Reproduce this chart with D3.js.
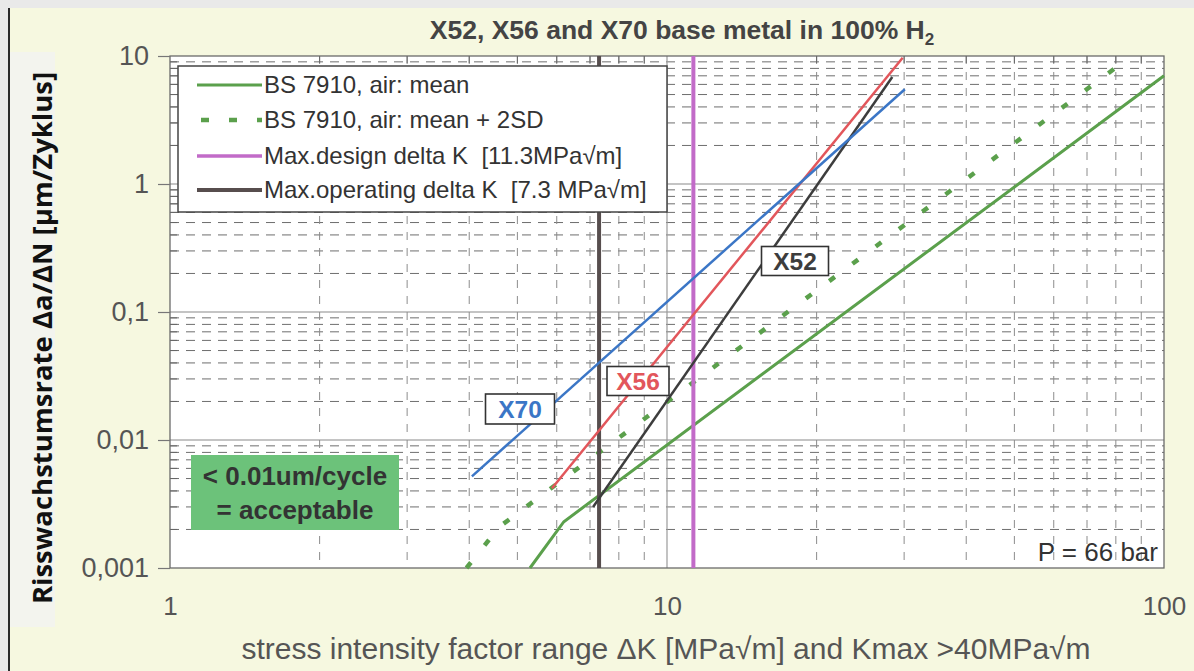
<!DOCTYPE html>
<html>
<head>
<meta charset="utf-8">
<script src="https://cdn.jsdelivr.net/npm/d3@7"></script>
<style>
  html, body { margin: 0; padding: 0; background: #e9e9e9; }
  svg { display: block; }
  text { white-space: pre; }
</style>
</head>
<body>
<svg id="chart" width="1194" height="671"></svg>
<script>
// ---- data -------------------------------------------------------------
const xTickValues = [1, 10, 100];
const xTickLabels = ["1", "10", "100"];
const yTickValues = [0.001, 0.01, 0.1, 1, 10];
const yTickLabels = ["0,001", "0,01", "0,1", "1", "10"];

// crack growth rate [µm/cycle] vs ΔK [MPa√m]
const x70Curve = [[4.05, 0.0052], [30.1, 5.5]];
const x56Curve = [[5.87, 0.0042], [29.8, 9.7]];
const x52Curve = [[7.1, 0.0030], [28.4, 6.85]];
const bsMean = [[5.3, 0.001], [6.2, 0.0023], [100, 7.0]];
const bsMean2SD = [[3.95, 0.001], [4.6, 0.0021], [86, 10]];

const maxDesignK = 11.3;
const maxOperatingK = 7.3;

const legendLabels = [
  "BS 7910, air: mean",
  "BS 7910, air: mean + 2SD",
  "Max.design delta K  [11.3MPa\u221Am]",
  "Max.operating delta K  [7.3 MPa\u221Am]"
];

// ---- layout -----------------------------------------------------------
const svg = d3.select("#chart");
const W = 1194, H = 671;
const plot = { left: 170, right: 1164, top: 56, bottom: 568 };

const x = d3.scaleLog().domain([1, 100]).range([plot.left, plot.right]);
const y = d3.scaleLog().domain([0.001, 10]).range([plot.bottom, plot.top]);

const font = "Arial, 'Liberation Sans', sans-serif";
const C = {
  panel: "#f6f8e0",
  blue: "#3b76c6",
  red: "#e2565b",
  dark: "#3d3d3d",
  green: "#5ba04c",
  purple: "#c26bc8",
  operating: "#574e4e",
  text: "#555555"
};

// background panel
svg.append("rect").attr("x", 0).attr("y", 0).attr("width", W).attr("height", H).attr("fill", "#e9e9e9");
svg.append("rect").attr("x", 9).attr("y", 8).attr("width", W - 9).attr("height", H - 8).attr("fill", C.panel);
svg.append("rect").attr("x", 10).attr("y", 52).attr("width", 45).attr("height", 575).attr("fill", "#f3f4ee");
svg.append("line").attr("x1", 9).attr("x2", 9).attr("y1", 8).attr("y2", H)
  .attr("stroke", "#2a2a2a").attr("stroke-width", 2);

// plot area
svg.append("rect")
  .attr("x", plot.left).attr("y", plot.top)
  .attr("width", plot.right - plot.left).attr("height", plot.bottom - plot.top)
  .attr("fill", "#ffffff");

const grid = svg.append("g");

// minor grid values
const yMinor = [];
[-3, -2, -1, 0].forEach(d => { for (let k = 2; k <= 9; k++) yMinor.push(k * Math.pow(10, d)); });
const xMinor = [];
[0, 1].forEach(d => { for (let k = 2; k <= 9; k++) xMinor.push(k * Math.pow(10, d)); });

grid.selectAll(".hminor").data(yMinor).join("line")
  .attr("x1", plot.left).attr("x2", plot.right)
  .attr("y1", d => y(d)).attr("y2", d => y(d))
  .attr("stroke", "#6e6e6e").attr("stroke-width", 1).attr("stroke-dasharray", "9,7");

grid.selectAll(".vminor").data(xMinor).join("line")
  .attr("x1", d => x(d)).attr("x2", d => x(d))
  .attr("y1", plot.top).attr("y2", plot.bottom)
  .attr("stroke", "#8c8c8c").attr("stroke-width", 1).attr("stroke-dasharray", "8,8");

// inner minor ticks on the left and top frame
grid.selectAll(".ytk").data(yMinor).join("line")
  .attr("x1", plot.left).attr("x2", plot.left + 7)
  .attr("y1", d => y(d)).attr("y2", d => y(d))
  .attr("stroke", "#666").attr("stroke-width", 1);
grid.selectAll(".xtk").data(xMinor).join("line")
  .attr("x1", d => x(d)).attr("x2", d => x(d))
  .attr("y1", plot.top).attr("y2", plot.top + 7)
  .attr("stroke", "#666").attr("stroke-width", 1);

// major grid
grid.selectAll(".hmajor").data(yTickValues.slice(1, 4)).join("line")
  .attr("x1", plot.left).attr("x2", plot.right)
  .attr("y1", d => y(d)).attr("y2", d => y(d))
  .attr("stroke", "#8a8a8a").attr("stroke-width", 1.2);
grid.append("line")
  .attr("x1", x(10)).attr("x2", x(10)).attr("y1", plot.top).attr("y2", plot.bottom)
  .attr("stroke", "#9a9a9a").attr("stroke-width", 1.2);

// frame
svg.append("rect")
  .attr("x", plot.left).attr("y", plot.top)
  .attr("width", plot.right - plot.left).attr("height", plot.bottom - plot.top)
  .attr("fill", "none").attr("stroke", "#6a6a6a").attr("stroke-width", 1.3);

// y axis (outer ticks + labels)
const yAxis = d3.axisLeft(y).tickValues(yTickValues)
  .tickFormat((d, i) => yTickLabels[i]).tickSize(12).tickPadding(9);
const gy = svg.append("g").attr("transform", `translate(${plot.left},0)`).call(yAxis);
gy.select(".domain").remove();
gy.selectAll(".tick line").attr("stroke", "#777").attr("stroke-width", 1.2);
gy.selectAll(".tick text").attr("fill", C.text)
  .style("font-family", font).style("font-size", "27px");

// x axis labels (no outer ticks)
const xAxis = d3.axisBottom(x).tickValues(xTickValues)
  .tickFormat((d, i) => xTickLabels[i]).tickSize(0).tickPadding(29);
const gx = svg.append("g").attr("transform", `translate(0,${plot.bottom})`).call(xAxis);
gx.select(".domain").remove();
gx.selectAll(".tick text").attr("fill", C.text)
  .style("font-family", font).style("font-size", "26px");

// curves
const line = d3.line().x(d => x(d[0])).y(d => y(d[1]));

svg.append("path").datum(bsMean2SD).attr("d", line)
  .attr("fill", "none").attr("stroke", C.green).attr("stroke-width", 4.5)
  .attr("stroke-dasharray", "7,22");
svg.append("path").datum(bsMean).attr("d", line)
  .attr("fill", "none").attr("stroke", C.green).attr("stroke-width", 3);

// vertical ΔK limits
svg.append("line").attr("x1", x(maxOperatingK)).attr("x2", x(maxOperatingK))
  .attr("y1", plot.top).attr("y2", plot.bottom)
  .attr("stroke", C.operating).attr("stroke-width", 4);
svg.append("line").attr("x1", x(maxDesignK)).attr("x2", x(maxDesignK))
  .attr("y1", plot.top).attr("y2", plot.bottom)
  .attr("stroke", C.purple).attr("stroke-width", 4);

svg.append("path").datum(x52Curve).attr("d", line)
  .attr("fill", "none").attr("stroke", C.dark).attr("stroke-width", 2.5);
svg.append("path").datum(x56Curve).attr("d", line)
  .attr("fill", "none").attr("stroke", C.red).attr("stroke-width", 2.5);
svg.append("path").datum(x70Curve).attr("d", line)
  .attr("fill", "none").attr("stroke", C.blue).attr("stroke-width", 2.5);

// curve labels
function tag(cx, cy, w, h, label, color) {
  const g = svg.append("g");
  g.append("rect").attr("x", cx - w / 2).attr("y", cy - h / 2).attr("width", w).attr("height", h)
    .attr("fill", "#ffffff").attr("stroke", "#333").attr("stroke-width", 1.6);
  g.append("text").attr("x", cx).attr("y", cy + 9).attr("text-anchor", "middle")
    .attr("fill", color).style("font-family", font).style("font-weight", "bold").style("font-size", "24.5px")
    .text(label);
}
tag(520, 409, 69, 30, "X70", C.blue);
tag(638, 381, 62, 29, "X56", C.red);
tag(795, 261, 67, 29, "X52", C.dark);

// legend
const lg = svg.append("g");
lg.append("rect").attr("x", 178).attr("y", 66).attr("width", 489).attr("height", 146)
  .attr("fill", "#ffffff").attr("stroke", "#444").attr("stroke-width", 1.5);
const rowsY = [85, 120, 156, 190];
const sampleStyle = [
  { stroke: C.green, w: 3, dash: null },
  { stroke: C.green, w: 4.5, dash: "8,20" },
  { stroke: C.purple, w: 3.5, dash: null },
  { stroke: C.operating, w: 4, dash: null }
];
legendLabels.forEach((t, i) => {
  const s = sampleStyle[i];
  const l = lg.append("line").attr("x1", i === 1 ? 201 : 197).attr("x2", 262)
    .attr("y1", rowsY[i]).attr("y2", rowsY[i])
    .attr("stroke", s.stroke).attr("stroke-width", s.w);
  if (s.dash) l.attr("stroke-dasharray", s.dash);
  lg.append("text").attr("x", 264).attr("y", rowsY[i] + 8)
    .attr("fill", "#333").style("font-family", font).style("font-size", "24px").text(t);
});

// acceptance note
svg.append("rect").attr("x", 191).attr("y", 455).attr("width", 208).attr("height", 75)
  .attr("fill", "#6cc27a");
svg.append("text").attr("x", 295).attr("y", 485).attr("text-anchor", "middle")
  .attr("fill", "#333").style("font-family", font).style("font-weight", "bold").style("font-size", "26px")
  .text("< 0.01um/cycle");
svg.append("text").attr("x", 295).attr("y", 519).attr("text-anchor", "middle")
  .attr("fill", "#333").style("font-family", font).style("font-weight", "bold").style("font-size", "26px")
  .text("= acceptable");

// pressure note
svg.append("text").attr("x", 1158).attr("y", 561).attr("text-anchor", "end")
  .attr("fill", "#333").style("font-family", font).style("font-size", "26px")
  .text("P = 66 bar");

// title
const title = svg.append("text").attr("x", 682).attr("y", 39).attr("text-anchor", "middle")
  .attr("fill", "#444").style("font-family", font).style("font-weight", "bold").style("font-size", "26.5px");
title.append("tspan").text("X52, X56 and X70 base metal in 100% H");
title.append("tspan").attr("dy", 6).style("font-size", "17px").text("2");

// axis titles
svg.append("text").attr("x", 666).attr("y", 659).attr("text-anchor", "middle")
  .attr("fill", C.text).style("font-family", font).style("font-size", "30px")
  .text("stress intensity factor range \u0394K [MPa\u221Am] and Kmax >40MPa\u221Am");

svg.append("text").attr("transform", "translate(52,338) rotate(-90)").attr("text-anchor", "middle")
  .attr("fill", "#111").style("font-family", "'Open Sans', sans-serif").style("font-weight", "bold")
  .style("font-size", "27.5px")
  .text("Risswachstumsrate \u0394a/\u0394N [\u00B5m/Zyklus]");
</script>
</body>
</html>
